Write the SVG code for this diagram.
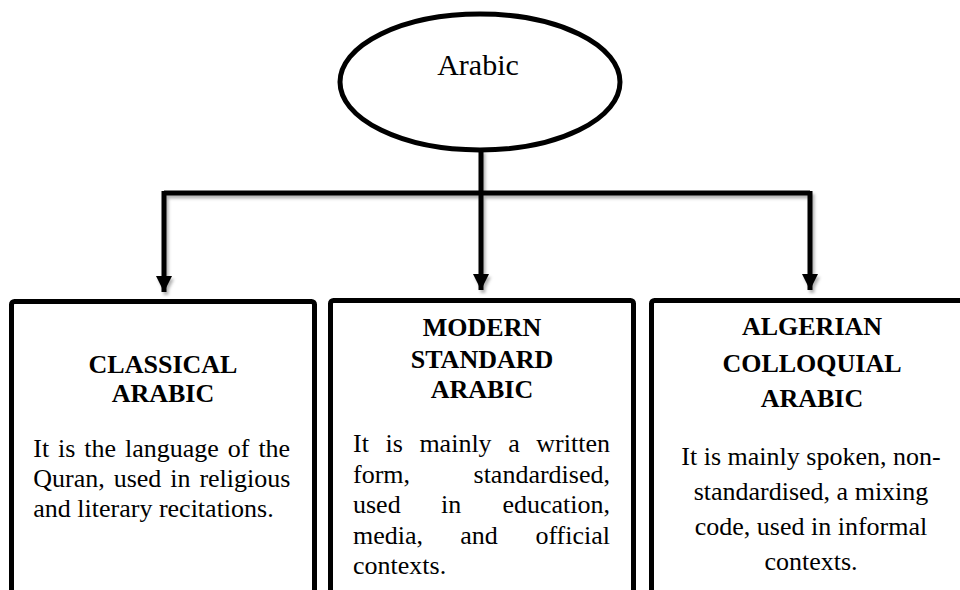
<svg xmlns="http://www.w3.org/2000/svg" width="960" height="590" viewBox="0 0 960 590">
  <style>
    .t { font-family: "Liberation Serif", "Times New Roman", serif; fill: #000; }
    .title { font-size: 30px; text-anchor: middle; }
    .h { font-size: 26px; font-weight: bold; text-anchor: middle; }
    .b { font-size: 26px; }
    .c { text-anchor: middle; }
    .e { text-anchor: end; }
    .box { fill: #fff; stroke: #000; stroke-width: 5; }
    .conn { fill: none; stroke: #000; stroke-width: 5; }
  </style>
  <defs>
    <filter id="sh" x="-5%" y="-5%" width="110%" height="120%">
      <feDropShadow dx="2" dy="3" stdDeviation="1.5" flood-color="#000" flood-opacity="0.3"/>
    </filter>
    <marker id="arr" viewBox="0 0 10 10" refX="10" refY="5" markerWidth="3.2" markerHeight="3.2" orient="auto" markerUnits="strokeWidth">
      <path d="M0,0 L10,5 L0,10 Z" fill="#000"/>
    </marker>
  </defs>
  <rect width="960" height="590" fill="#fff"/>

  <g id="connectors" filter="url(#sh)">
    <path class="conn" d="M481,150 V193"/>
    <path class="conn" d="M164,193 H810"/>
    <path class="conn" d="M164,191 V292" marker-end="url(#arr)"/>
    <path class="conn" d="M481,193 V290" marker-end="url(#arr)"/>
    <path class="conn" d="M810,191 V290" marker-end="url(#arr)"/>
  </g>

  <g id="arabic">
    <ellipse cx="480" cy="82" rx="140" ry="68" fill="#fff" stroke="#000" stroke-width="5"/>
    <text class="t title" x="478" y="75">Arabic</text>
  </g>

  <g id="classical">
    <rect class="box" x="11.5" y="301.5" width="303" height="310" rx="3"/>
    <text class="t h" x="163" y="373">CLASSICAL</text>
    <text class="t h" x="163" y="402">ARABIC</text>
    <text class="t b" y="457"><tspan x="33.3">It</tspan><tspan x="58.1">is</tspan><tspan x="84.3">the</tspan><tspan x="125">language</tspan><tspan x="227.8">of</tspan><tspan x="258.4">the</tspan></text>
    <text class="t b" y="487"><tspan x="33.3">Quran,</tspan><tspan x="113.7">used</tspan><tspan x="170.3">in</tspan><tspan x="199.4">religious</tspan></text>
    <text class="t b" x="33.3" y="517">and literary recitations.</text>
  </g>

  <g id="msa">
    <rect class="box" x="330.5" y="300.5" width="303" height="310" rx="3"/>
    <text class="t h" x="482" y="336">MODERN</text>
    <text class="t h" x="482" y="368">STANDARD</text>
    <text class="t h" x="482" y="398">ARABIC</text>
    <text class="t b" y="452"><tspan x="353">It</tspan><tspan x="385.5">is</tspan><tspan x="419.4">mainly</tspan><tspan x="508.2">a</tspan><tspan x="536.3">written</tspan></text>
    <text class="t b" x="353" y="483">form,</text>
    <text class="t b e" x="610" y="483">standardised,</text>
    <text class="t b" y="513"><tspan x="353">used</tspan><tspan x="441">in</tspan></text>
    <text class="t b e" x="610" y="513">education,</text>
    <text class="t b" y="544"><tspan x="353">media,</tspan><tspan x="460.2">and</tspan></text>
    <text class="t b e" x="610" y="544">official</text>
    <text class="t b" x="353" y="574">contexts.</text>
  </g>

  <g id="algerian">
    <rect class="box" x="651.5" y="300.5" width="330" height="310" rx="3"/>
    <text class="t h" x="812" y="335">ALGERIAN</text>
    <text class="t h" x="812" y="372">COLLOQUIAL</text>
    <text class="t h" x="812" y="407">ARABIC</text>
    <text class="t b c" x="811" y="465">It is mainly spoken, non-</text>
    <text class="t b c" x="811" y="500">standardised, a mixing</text>
    <text class="t b c" x="811" y="535">code, used in informal</text>
    <text class="t b c" x="811" y="570">contexts.</text>
  </g>
</svg>
